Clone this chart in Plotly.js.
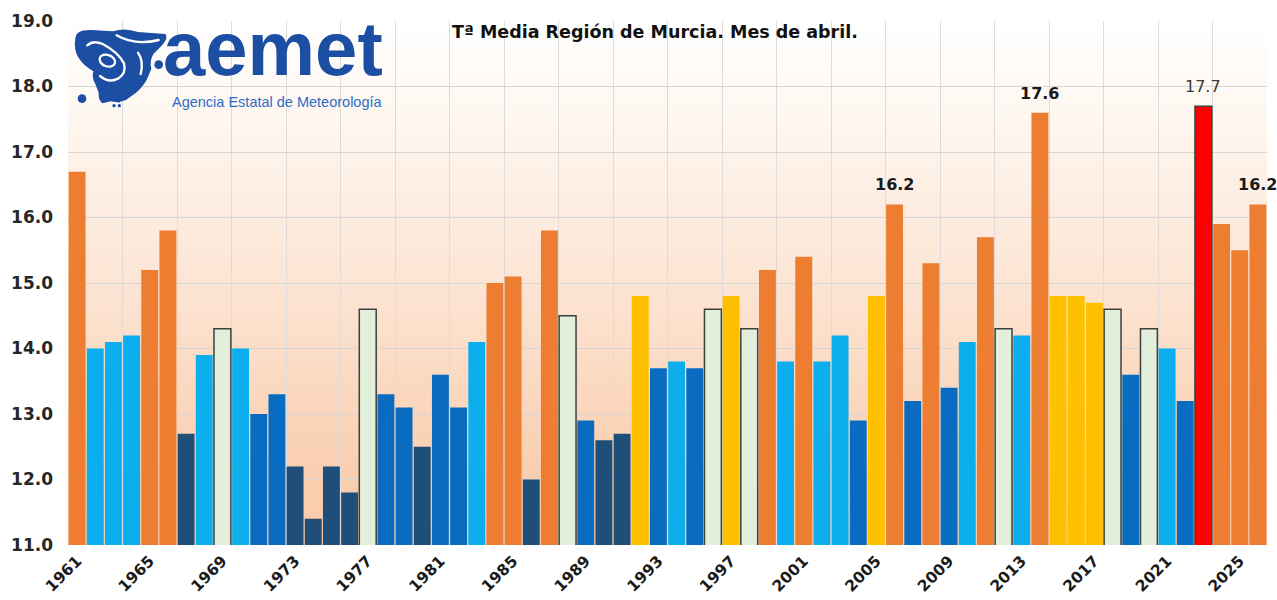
<!DOCTYPE html>
<html>
<head>
<meta charset="utf-8">
<script src="https://cdn.plot.ly/plotly-3.0.1.min.js"></script>
<style>
html,body{margin:0;padding:0;background:#ffffff;}
#chart{width:1277px;height:600px;}
</style>
</head>
<body>
<div id="chart"></div>
<script>
// ---- data ----
const years = [];
for (let y = 1961; y <= 2026; y++) years.push(y);

const temps = [
  16.7, 14.0, 14.1, 14.2, 15.2, 15.8, 12.7, 13.9, 14.3, 14.0,
  13.0, 13.3, 12.2, 11.4, 12.2, 11.8, 14.6, 13.3, 13.1, 12.5,
  13.6, 13.1, 14.1, 15.0, 15.1, 12.0, 15.8, 14.5, 12.9, 12.6,
  12.7, 14.8, 13.7, 13.8, 13.7, 14.6, 14.8, 14.3, 15.2, 13.8,
  15.4, 13.8, 14.2, 12.9, 14.8, 16.2, 13.2, 15.3, 13.4, 14.1,
  15.7, 14.3, 14.2, 17.6, 14.8, 14.8, 14.7, 14.6, 13.6, 14.3,
  14.0, 13.2, 17.7, 15.9, 15.5, 16.2
];

// colour class of each bar: O orange, L light blue, M mid blue, N navy, P pale, Y yellow, R red
const classes = [
  'O','L','L','L','O','O','N','L','P','L',
  'M','M','N','N','N','N','P','M','M','N',
  'M','M','L','O','O','N','O','P','M','N',
  'N','Y','M','L','M','P','Y','P','O','L',
  'O','L','L','M','Y','O','M','O','M','L',
  'O','P','L','O','Y','Y','Y','P','M','P',
  'L','M','R','O','O','O'
];

const tickYears = [1961,1965,1969,1973,1977,1981,1985,1989,1993,1997,2001,2005,2009,2013,2017,2021,2025];
const tickLabels = tickYears.map(String);

const labelYears = [2006, 2014, 2023, 2026];
const labelBold  = [true, true, false, true];

const titleText = 'Tª Media Región de Murcia. Mes de abril.';
const logoName = 'aemet';
const logoSub = 'Agencia Estatal de Meteorología';

// ---- styles ----
const palette = {O:'#ED7D31', L:'#0DAEEE', M:'#0A6CC0', N:'#1F4E79', P:'#E2EFDA', Y:'#FFC000', R:'#FF0000'};
const outlined = {P:true, R:true};

const barColors = classes.map(c => palette[c]);
const lineWidths = classes.map(c => outlined[c] ? 1.5 : 0);
const lineColors = classes.map(c => outlined[c] ? '#3f3f3f' : 'rgba(0,0,0,0)');

const trace = {
  type: 'bar',
  x: years,
  y: temps,
  marker: {color: barColors, line: {color: lineColors, width: lineWidths}},
  hovertemplate: '%{x}: %{y:.1f}<extra></extra>'
};

// plot area geometry (px) for paper placement of decorations
const L = 68, R = 1267, T = 21, B = 545;
const px = x => (x - L) / (R - L);
const py = y => (B - y) / (B - T);

const gradSvg = '<svg xmlns="http://www.w3.org/2000/svg" width="100" height="100" viewBox="0 0 100 100" preserveAspectRatio="none">' +
  '<defs><linearGradient id="g" x1="0" y1="0" x2="0" y2="1">' +
  '<stop offset="0" stop-color="#FFFFFF"/>' +
  '<stop offset="0.22" stop-color="#FEF5ED"/>' +
  '<stop offset="0.55" stop-color="#FCE2CF"/>' +
  '<stop offset="0.85" stop-color="#F9CFB1"/>' +
  '<stop offset="1" stop-color="#F8CAA9"/>' +
  '</linearGradient></defs><rect x="0" y="0" width="100" height="100" fill="url(#g)"/></svg>';

const logoSvg = '<svg xmlns="http://www.w3.org/2000/svg" width="330" height="270" viewBox="0 0 330 270">' +
  '<g fill="#1C4FA3">' +
  '<path d="M22,55 Q24,28 70,30 L135,34 Q170,22 210,36 L292,42 Q304,54 278,80 L256,102 Q244,124 250,146 L236,180 Q220,206 202,220 L174,240 Q150,250 128,244 L104,250 Q90,240 92,218 L82,192 Q70,172 76,154 Q48,138 32,114 Q16,90 22,55 Z"/>' +
  '<circle cx="272" cy="134" r="13"/><circle cx="42" cy="236" r="13"/>' +
  '<circle cx="138" cy="257" r="5"/><circle cx="154" cy="257" r="5"/><circle cx="152" cy="244" r="4"/>' +
  '</g>' +
  '<g fill="none" stroke="#ffffff" stroke-width="7" stroke-linecap="round">' +
  '<ellipse cx="118" cy="122" rx="24" ry="17" transform="rotate(20 118 122)"/>' +
  '<path d="M58,76 Q75,60 104,72 Q150,96 168,130 Q176,160 150,176 Q122,190 96,168"/>' +
  '<path d="M146,46 Q200,78 272,60"/>' +
  '<path d="M210,98 Q228,124 218,162"/>' +
  '</g></svg>';

const annotations = [];
labelYears.forEach((yr, i) => {
  const v = temps[years.indexOf(yr)];
  annotations.push({
    x: yr, y: v, xref: 'x', yref: 'y', text: v.toFixed(1), showarrow: false,
    yanchor: 'bottom', yshift: 8,
    font: {family: 'DejaVu Sans', size: 16, color: labelBold[i] ? '#1a1a1a' : '#3a3a3a', weight: labelBold[i] ? 700 : 400}
  });
});
annotations.push({
  x: px(655), y: py(32), xref: 'paper', yref: 'paper', text: titleText, showarrow: false,
  xanchor: 'center', yanchor: 'middle',
  font: {family: 'DejaVu Sans', size: 17.5, color: '#111111', weight: 700}
});
annotations.push({
  x: px(162), y: py(92), xref: 'paper', yref: 'paper', text: logoName, showarrow: false,
  xanchor: 'left', yanchor: 'bottom', borderpad: 0,
  font: {family: 'Liberation Sans', size: 76, color: '#1C4FA3', weight: 700}
});
annotations.push({
  x: px(171), y: py(92.6), xref: 'paper', yref: 'paper', text: logoSub, showarrow: false,
  xanchor: 'left', yanchor: 'top', borderpad: 0,
  font: {family: 'Liberation Sans', size: 14.5, color: '#2F6BC6'}
});

const layout = {
  width: 1277, height: 600,
  margin: {l: L, r: 1277 - R, t: T, b: 600 - B},
  paper_bgcolor: '#ffffff',
  plot_bgcolor: 'rgba(0,0,0,0)',
  showlegend: false,
  bargap: 0.07,
  xaxis: {
    type: 'linear', range: [1960.5, 2026.5],
    tickmode: 'array', tickvals: tickYears, ticktext: tickLabels,
    tickangle: -45, showgrid: false, zeroline: false, showline: false, ticks: '',
    ticklabelstandoff: 3,
    tickfont: {family: 'DejaVu Sans', size: 15.5, color: '#1a1a1a', weight: 700},
    minor: {tickmode: 'linear', tick0: 1960.5, dtick: 3, showgrid: true, gridcolor: '#DEDBDA', gridwidth: 1, ticks: ''}
  },
  yaxis: {
    range: [11, 19], dtick: 1, tick0: 11, tickformat: '.1f',
    showgrid: true, gridcolor: '#D6D6D6', gridwidth: 1, zeroline: false, showline: false, ticks: '',
    ticklabelstandoff: 14,
    tickfont: {family: 'DejaVu Sans', size: 17, color: '#262626', weight: 700}
  },
  images: [
    {source: 'data:image/svg+xml;charset=utf-8,' + encodeURIComponent(gradSvg),
     xref: 'paper', yref: 'paper', x: 0, y: 1, sizex: 1, sizey: 1,
     sizing: 'stretch', xanchor: 'left', yanchor: 'top', layer: 'below'},
    {source: 'data:image/svg+xml;charset=utf-8,' + encodeURIComponent(logoSvg),
     xref: 'paper', yref: 'paper', x: px(68), y: py(20), sizex: 110 / (R - L), sizey: 90 / (B - T),
     sizing: 'stretch', xanchor: 'left', yanchor: 'top', layer: 'above'}
  ],
  annotations: annotations
};

Plotly.newPlot('chart', [trace], layout, {displayModeBar: false, staticPlot: true});
</script>
</body>
</html>
